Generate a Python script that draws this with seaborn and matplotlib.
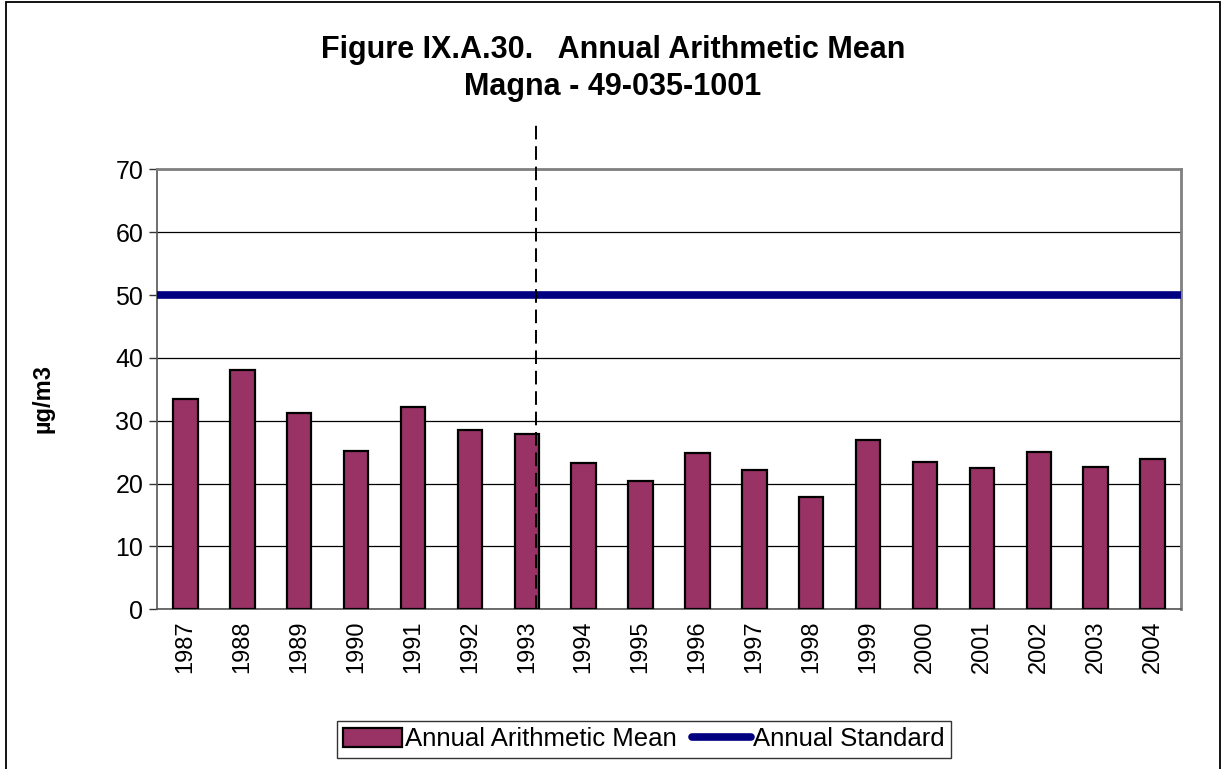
import matplotlib
matplotlib.use("Agg")
import matplotlib.pyplot as plt
import matplotlib.patches as mpatches
from matplotlib.lines import Line2D
import seaborn as sns
import pandas as pd

years = ["1987", "1988", "1989", "1990", "1991", "1992", "1993", "1994", "1995",
         "1996", "1997", "1998", "1999", "2000", "2001", "2002", "2003", "2004"]
annual_mean = [33.4, 38.0, 31.3, 25.2, 32.2, 28.5, 27.9, 23.2, 20.4,
               24.9, 22.1, 17.9, 26.9, 23.5, 22.4, 25.0, 22.7, 23.9]
annual_standard = 50
y_ticks = [0, 10, 20, 30, 40, 50, 60, 70]
divider_position = 6.17  # between 1993 and 1994

sns.set_theme(style="white")
plt.rcParams['font.family'] = ['Liberation Sans', 'DejaVu Sans']
plt.rcParams['text.color'] = 'black'
plt.rcParams['axes.labelcolor'] = 'black'
plt.rcParams['xtick.color'] = 'black'
plt.rcParams['ytick.color'] = 'black'

df = pd.DataFrame({"year": years, "value": annual_mean})

fig = plt.figure(figsize=(12.22, 7.69), dpi=100)
ax = fig.add_axes([0.1285, 0.2077, 0.8379, 0.5721])

bar_color = "#993366"
navy = "#000080"

sns.barplot(data=df, x="year", y="value", color=bar_color, width=0.43,
            edgecolor="black", linewidth=1.6, saturation=1, ax=ax, zorder=3)

ax.axhline(annual_standard, color=navy, lw=5.5, zorder=4, solid_capstyle="butt")

ax.set_xlim(-0.5, len(years) - 0.5)
ax.set_ylim(0, 70)
ax.set_yticks(y_ticks)
ax.set_yticklabels([str(t) for t in y_ticks], fontsize=18)
ax.yaxis.grid(True, color="black", lw=0.9, zorder=1)
ax.set_axisbelow(True)

ax.set_xticks(range(len(years)))
ax.set_xticklabels(years, rotation=90, fontsize=17)
ax.set_xticks([i - 0.5 for i in range(len(years) + 1)], minor=True)
ax.tick_params(axis="x", which="major", length=0, pad=8)
ax.tick_params(axis="x", which="minor", length=6, width=1, color="#333333", direction="out")
ax.tick_params(axis="y", which="major", length=6, width=1, color="#333333", direction="out", pad=4, left=True)

for side in ["top", "right"]:
    ax.spines[side].set_color("#808080")
    ax.spines[side].set_linewidth(2)
for side in ["left", "bottom"]:
    ax.spines[side].set_color("#555555")
    ax.spines[side].set_linewidth(1.2)

ax.set_xlabel("")
ax.set_ylabel("µg/m3", fontsize=17, fontweight="bold")
ax.yaxis.set_label_coords(-0.100, 0.48)

ax.axvline(divider_position, ymin=0, ymax=1.105, color="black", lw=1.4,
           ls=(0, (7, 3.5)), clip_on=False, zorder=5)

fig.text(0.5016, 0.924, "Figure IX.A.30.   Annual Arithmetic Mean", ha="center",
         va="baseline", fontsize=22, fontweight="bold")
fig.text(0.5016, 0.876, "Magna - 49-035-1001", ha="center",
         va="baseline", fontsize=22, fontweight="bold")

handles = [mpatches.Patch(facecolor=bar_color, edgecolor="black", lw=1.6),
           Line2D([0], [0], color=navy, lw=5.5)]
leg = fig.legend(handles, ["Annual Arithmetic Mean", "Annual Standard"], ncol=2,
                 loc="center", bbox_to_anchor=(0.527, 0.0384), fontsize=18.5,
                 frameon=True, fancybox=False, edgecolor="black", handlelength=2.3,
                 handletextpad=0.1, columnspacing=0.6, borderpad=0.25,
                 handleheight=0.8)
leg.get_frame().set_linewidth(1.0)

border = mpatches.Rectangle((6 / 1222, -0.01), 1214 / 1222, 1.0 - 2 / 769 + 0.01,
                            transform=fig.transFigure, fill=False,
                            edgecolor="black", lw=1.3, clip_on=False)
fig.patches.append(border)

fig.savefig("out.png", dpi=100)
